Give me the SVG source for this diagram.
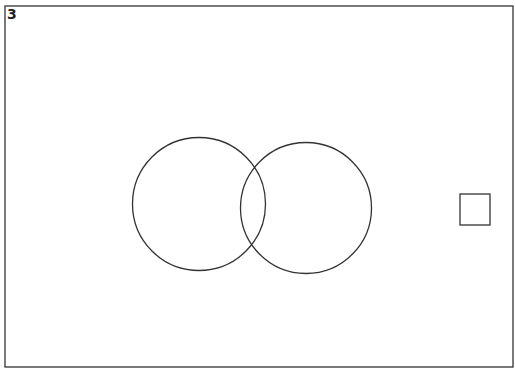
<svg xmlns="http://www.w3.org/2000/svg" width="515" height="370" viewBox="0 0 515 370">
<style>
.ln{fill:none;stroke:#333;stroke-width:1.3}
.lb{font-family:"DejaVu Sans",sans-serif;font-weight:bold;font-size:14px;fill:#222}
</style>
<rect x="0" y="0" width="515" height="370" fill="#fff"/>
<g id="frame"><rect class="ln" x="5" y="6" width="508" height="361" stroke-width="1.5"/></g>
<text class="lb" x="7" y="19">3</text>
<g id="circle-left"><circle class="ln" cx="199" cy="204" r="66.5"/></g>
<g id="circle-right"><circle class="ln" cx="306" cy="208" r="65.5"/></g>
<g id="square"><rect class="ln" x="460" y="194" width="30" height="31"/></g>
<g id="connectors"></g>
</svg>
